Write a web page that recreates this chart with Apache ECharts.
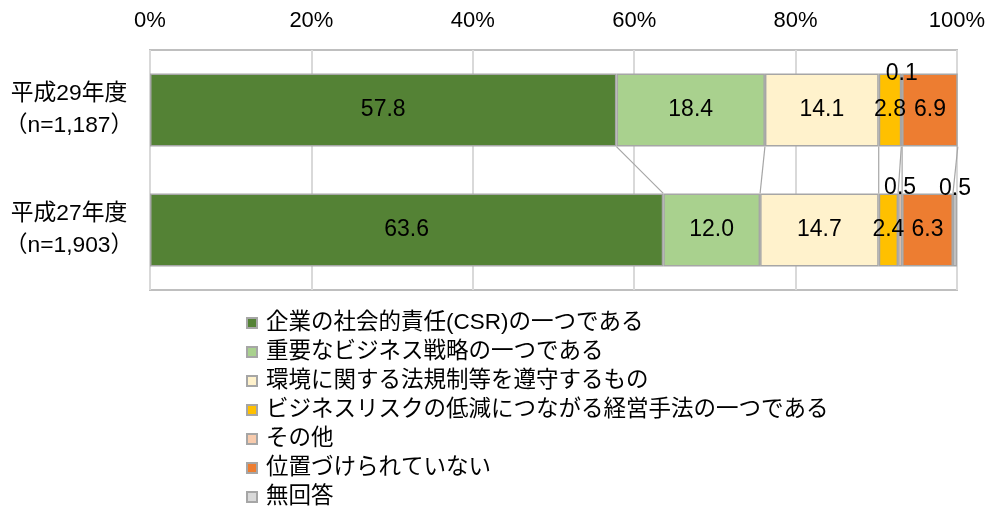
<!DOCTYPE html>
<html><head><meta charset="utf-8">
<script src="https://cdn.jsdelivr.net/npm/echarts@6/dist/echarts.min.js"></script>
<style>html,body{margin:0;padding:0;background:#fff}#c{width:989px;height:508px}</style>
</head><body><div id="c"></div>
<script>
// ---- data ----
const categories = ['平成29年度\n（n=1,187）', '平成27年度\n（n=1,903）'];
const seriesNames = [
  '企業の社会的責任(CSR)の一つである',
  '重要なビジネス戦略の一つである',
  '環境に関する法規制等を遵守するもの',
  'ビジネスリスクの低減につながる経営手法の一つである',
  'その他',
  '位置づけられていない',
  '無回答'
];
const csr = [57.8, 63.6];
const strategy = [18.4, 12.0];
const compliance = [14.1, 14.7];
const riskReduction = [2.8, 2.4];
const other = [0.1, 0.5];
const notPositioned = [6.9, 6.3];
const noAnswer = [null, 0.5];
const xTicks = [0, 20, 40, 60, 80, 100];

// ---- styles ----
const colors = ['#548235', '#a9d18e', '#fff2cc', '#ffc000', '#f8cbad', '#ed7d31', '#d9d9d9'];
const FONT = '"Liberation Sans", "Noto Sans CJK JP", sans-serif';
const allValues = [csr, strategy, compliance, riskReduction, other, notPositioned, noAnswer];
// labels drawn above thin segments (per series index): distance for each category
const aboveDist = {4: [-12, -6], 6: [-7, -7]};

const barSeries = allValues.map((vals, si) => ({
  name: seriesNames[si],
  type: 'bar',
  stack: 'total',
  barWidth: '61%',
  itemStyle: {color: colors[si], borderColor: '#a6a6a6', borderWidth: 1.5},
  label: {
    show: true, position: 'inside', color: '#000', fontSize: 23, fontFamily: FONT,
    formatter: p => p.value == null ? '' : p.value.toFixed(1)
  },
  data: vals.map((v, ci) => {
    if (aboveDist[si]) {
      return {value: v, label: {position: 'top', distance: aboveDist[si][ci]}};
    }
    return v;
  })
}));

// cumulative ends for series lines
const cum = [[0, 0]];
allValues.forEach(vals => {
  const prev = cum[cum.length - 1];
  cum.push([prev[0] + (vals[0] || 0), prev[1] + (vals[1] || 0)]);
});
const lineData = cum.slice(1, 7).map(c => [c[0], c[1]]);

const option = {
  animation: false,
  backgroundColor: '#fff',
  textStyle: {fontFamily: FONT},
  grid: {left: 150, right: 32, top: 50, bottom: 218, show: true, borderColor: '#bfbfbf', borderWidth: 2},
  legend: {
    orient: 'vertical', left: 246, top: 311, height: 260, padding: 0,
    data: seriesNames,
    itemWidth: 10, itemHeight: 10, itemGap: 5,
    icon: 'rect',
    textStyle: {fontSize: 22.5, lineHeight: 24, color: '#000', fontFamily: FONT, padding: [0, 0, 0, 4]}
  },
  xAxis: {
    type: 'value', position: 'top', min: 0, max: 100, interval: 20,
    axisLine: {show: false}, axisTick: {show: false},
    splitLine: {show: true, lineStyle: {color: '#d9d9d9', width: 2}},
    axisLabel: {
      margin: 18, fontSize: 22, color: '#000', fontFamily: FONT,
      formatter: v => xTicks.includes(v) ? v + '%' : ''
    }
  },
  yAxis: {
    type: 'category', inverse: true, data: categories,
    axisLine: {show: false}, axisTick: {show: false},
    axisLabel: {margin: 81, align: 'center', fontSize: 22.8, lineHeight: 32, color: '#000', fontFamily: FONT}
  },
  series: barSeries.concat([{
    type: 'custom',
    silent: true,
    z: 1,
    encode: {x: [0, 1]},
    data: lineData,
    renderItem: (params, api) => {
      const p0 = api.coord([api.value(0), 0]);
      const p1 = api.coord([api.value(1), 1]);
      const half = api.size([0, 1])[1] * 0.305;
      return {
        type: 'line',
        shape: {x1: p0[0], y1: p0[1] + half, x2: p1[0], y2: p1[1] - half},
        style: {stroke: '#a6a6a6', lineWidth: 1.2}
      };
    }
  }])
};
const chart = echarts.init(document.getElementById('c'), null, {renderer: 'canvas'});
chart.setOption(option);
</script>
</body></html>
